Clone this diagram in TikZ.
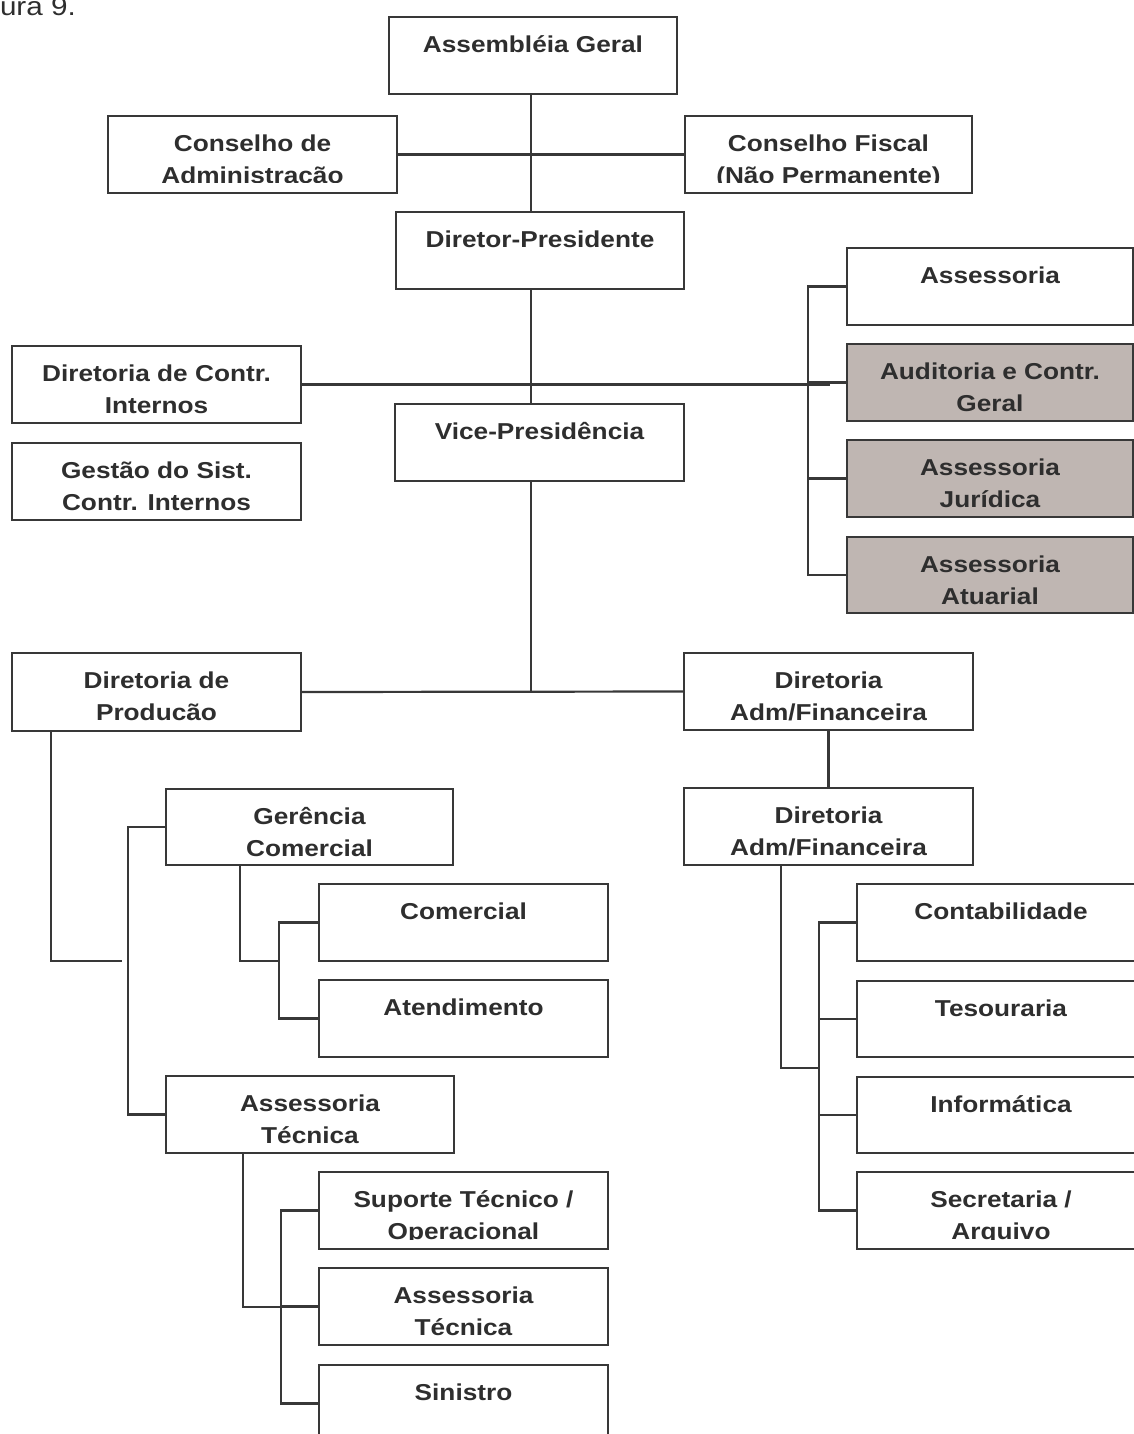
\documentclass[tikz,border=0pt]{standalone}
\usepackage{fontspec}
\setmainfont{Liberation Sans}[FakeStretch=1.14]
\usetikzlibrary{calc}

\definecolor{ink}{HTML}{2E2E2E}
\definecolor{edge}{HTML}{383838}
\definecolor{shade}{RGB}{191,182,178}

\tikzset{
  box/.style={draw=edge, line width=2.2pt, rectangle, inner sep=0pt, outer sep=0pt},
  shaded/.style={fill=shade},
  lbl/.style={text=ink, font=\fontsize{23}{32}\selectfont\bfseries, align=center, inner sep=0pt},
  link/.style={draw=edge, line width=2.2pt},
  caption/.style={text=ink, font=\fontsize{26}{30}\selectfont, inner sep=0pt},
}

% \orgbox[style]{name}{x1}{y1}{x2}{y2}{text}: frame plus its label,
% the label cut off just below the baseline of its second line
\newcommand{\orgbox}[7][]{%
  \node[box,#1,minimum width={(#5)-(#3)},minimum height={(#6)-(#4)},anchor=north west] (#2) at (#3,#4) {};
  \begin{scope}
    \clip (#3,#4) rectangle (#5,#4+67);
    \node[lbl,anchor=north] (#2-txt) at ($(#2.north)+(0,12.6)$) {\strut #7};
  \end{scope}}

\begin{document}
\begin{tikzpicture}[x=1pt,y=-1pt]
\useasboundingbox (0,0) rectangle (1134,1434);

\node[caption,anchor=base east] (fig) at (76,16) {ura 9.};

% upper governance
\orgbox{asg}{389}{17}{677}{94}{Assembléia Geral}
\orgbox{ca}{108}{116}{397}{193}{Conselho de\\Administracão}
\orgbox{cf}{685}{116}{972}{193}{Conselho Fiscal\\(Não Permanente)}
\orgbox{dp}{396}{212}{684}{289}{Diretor-Presidente}
\orgbox{vp}{395}{404}{684}{481}{Vice-Presidência}
\orgbox{dci}{12}{346}{301}{423}{Diretoria de Contr.\\Internos}
\orgbox{gsci}{12}{443}{301}{520}{Gestão do Sist.\\Contr. Internos}

% staff units on the right
\orgbox{as}{847}{248}{1133}{325}{Assessoria}
\orgbox[shaded]{aud}{847}{344}{1133}{421}{Auditoria e Contr.\\Geral}
\orgbox[shaded]{jur}{847}{440}{1133}{517}{Assessoria\\Jurídica}
\orgbox[shaded]{ata}{847}{537}{1133}{613}{Assessoria\\Atuarial}

% directorates
\orgbox{prod}{12}{653}{301}{731}{Diretoria de\\Producão}
\orgbox{adf1}{684}{653}{973}{730}{Diretoria\\Adm/Financeira}
\orgbox{adf2}{684}{788}{973}{865}{Diretoria\\Adm/Financeira}

% production branch
\orgbox{ger}{166}{789}{453}{865}{Gerência\\Comercial}
\orgbox{com}{319}{884}{608}{961}{Comercial}
\orgbox{ate}{319}{980}{608}{1057}{Atendimento}
\orgbox{ast}{166}{1076}{454}{1153}{Assessoria\\Técnica}
\orgbox{sup}{319}{1172}{608}{1249}{Suporte Técnico /\\Operacional}
\orgbox{ast2}{319}{1268}{608}{1345}{Assessoria\\Técnica}
\orgbox{sin}{319}{1365}{608}{1442}{Sinistro}

% finance branch
\orgbox{con}{857}{884}{1145}{961}{Contabilidade}
\orgbox{tes}{857}{981}{1145}{1057}{Tesouraria}
\orgbox{inf}{857}{1077}{1145}{1153}{Informática}
\orgbox{sec}{857}{1172}{1145}{1249}{Secretaria /\\Arquivo}

% connectors
\coordinate (spine) at (531,0);
\coordinate (ctrlend) at (830,384);
\coordinate (prodbus) at (122,961);
\coordinate (gerbus) at (279,961);
\coordinate (astbus) at (281,1307);
\coordinate (finbus) at (819,1068);

\draw[link] (asg.south -| spine) -- (dp.north -| spine);
\draw[link] (ca.east) -- (cf.west);
\draw[link] (dp.south -| spine) -- (vp.north -| spine);
\draw[link] (dci.east) -- (dci.east -| ctrlend);

\draw[link] (as.west) -- ++(-39,0) |- (ata.west);
\draw[link] (aud.west) -- ++(-39,0);
\draw[link] (jur.west) -- ++(-39,0);

\draw[link] (vp.south -| spine) -- (prod.east -| spine);
\draw[link] (prod.east) -- (adf1.west);
\draw[link] (adf1.south) -- (adf2.north);

\draw[link] ($(adf2.south west)+(97,0)$) |- (finbus);
\draw[link] (con.west) -- ++(-38,0) |- (sec.west);
\draw[link] (tes.west) -- ++(-38,0);
\draw[link] (inf.west) -- ++(-38,0);

\draw[link] ($(prod.south west)+(39,0)$) |- (prodbus);
\draw[link] (ger.west) -- ++(-38,0) |- (ast.west);
\draw[link] ($(ger.south west)+(74,0)$) |- (gerbus);
\draw[link] (com.west) -- ++(-40,0) |- (ate.west);
\draw[link] ($(ast.south west)+(77,0)$) |- (astbus);
\draw[link] (sup.west) -- ++(-38,0) |- (sin.west);
\draw[link] (ast2.west) -- ++(-38,0);
\end{tikzpicture}
\end{document}
